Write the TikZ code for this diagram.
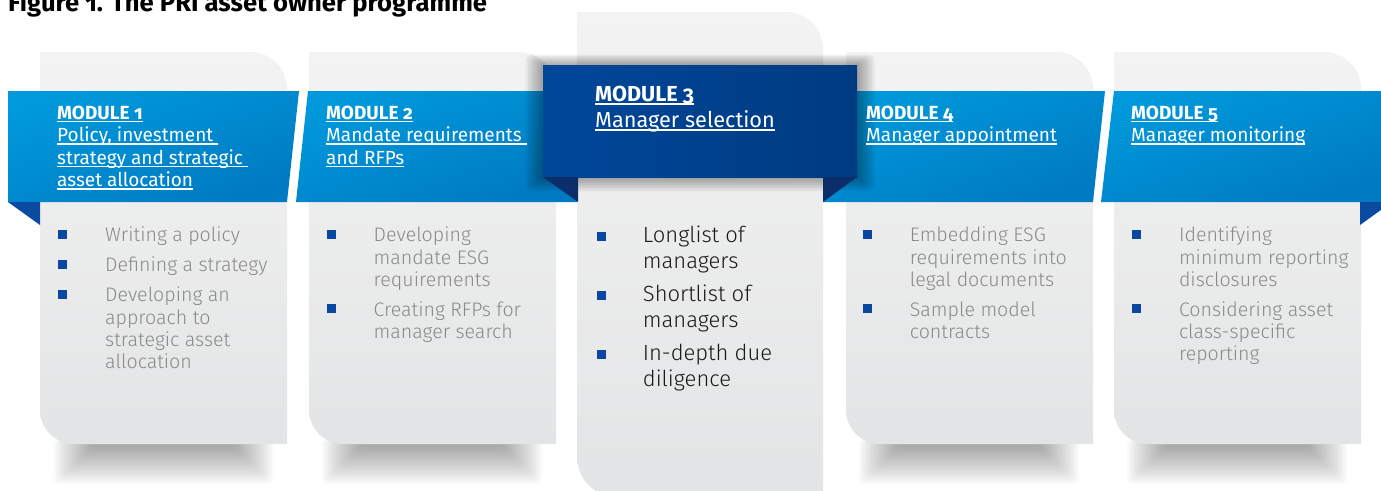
\documentclass[tikz,border=0pt]{standalone}
\usepackage{fontspec}
\setmainfont{Fira Sans}[Numbers=OldStyle]
\newfontfamily\lightfont{Fira Sans Light}[Numbers=OldStyle]
\usetikzlibrary{positioning}

% underline at a fixed depth below the baseline
\newcommand{\priul}[1]{\setbox0\hbox{#1}\rlap{\rule[-3pt]{\wd0}{1.3pt}}\box0}
% stacked lines, hung from the baseline of the first one
\newcommand{\prilines}[1]{\begin{tabular}[t]{@{}l@{}}#1\end{tabular}}

\definecolor{priblue}{HTML}{0099DB}
\definecolor{priblueend}{HTML}{007AC2}
\definecolor{prinavy}{HTML}{00479A}
\definecolor{prinavyend}{HTML}{003B82}
\definecolor{prinavydark}{HTML}{0B2E6B}
\definecolor{prifold}{HTML}{0A4AA0}
\definecolor{cardtop}{HTML}{F3F3F3}
\definecolor{cardbottom}{HTML}{E3E4E5}
\definecolor{bodygray}{HTML}{8A8A8A}
\definecolor{bulletblue}{HTML}{0A47A0}

\tikzset{
  card/.style={top color=cardtop, bottom color=cardbottom},
  banner/.style={top color=priblue, bottom color=priblueend, shading angle=20},
  modhead/.style={anchor=base west, inner sep=0pt, text=white,
    font=\fontsize{19}{22.5}\selectfont},
  bigmodhead/.style={modhead, font=\fontsize{21.7}{26}\selectfont},
  itemtext/.style={anchor=base west, inner sep=0pt, text=bodygray,
    font=\lightfont\fontsize{19.6}{22.3}\selectfont},
  bigitemtext/.style={itemtext, text=black!90, font=\lightfont\fontsize{22}{25.5}\selectfont},
  bullet/.style={fill=bulletblue, minimum size=9pt, inner sep=0pt},
}

\begin{document}
\begin{tikzpicture}[x=1pt, y=1pt]
\useasboundingbox (0,0) rectangle (1381,-490);

% title, cut off by the top of the page
\node[anchor=base west, inner sep=0pt, font=\bfseries\fontsize{25.6}{30}\selectfont]
  (title) at (8,-11) {Figure 1. The PRI asset owner programme};

% soft shadows under the outer cards
\foreach \cx in {163.5, 432, 969, 1237}
  \foreach \k in {1,...,20}
    \fill[black, opacity=0.018, rounded corners=4pt]
      (\cx-70-2*\k,-440) rectangle (\cx+70+2*\k,-446-1.9*\k);

% the four outer cards
\foreach \l in {40, 309, 846, 1114}
  \shade[card] (\l,-52) -- (\l+210,-52) arc[start angle=90, end angle=0, radius=37]
    -- (\l+247,-444) -- (\l+34,-444) arc[start angle=270, end angle=180, radius=34] -- cycle;

% the light blue banners
\shade[banner] (8,-91) -- (299,-91) -- (287,-202) -- (8,-202) -- cycle;
\shade[banner] (308,-91) -- (578,-91) -- (578,-202) -- (296,-202) -- cycle;
\shade[banner] (822,-91) -- (1105,-91) -- (1093,-202) -- (822,-202) -- cycle;
\shade[banner] (1114,-91) -- (1381,-91) -- (1381,-202) -- (1101,-202) -- cycle;

% folds at both ends
\fill[prifold] (8,-202) -- (40,-202) -- (40,-225) -- cycle;
\fill[prifold] (1360,-202) -- (1392,-202) -- (1360,-225) -- cycle;

% the middle card
\shade[card] (577,-12) -- (786,-12) arc[start angle=90, end angle=0, radius=37]
  -- (823,-497) -- (617,-497) arc[start angle=270, end angle=180, radius=40] -- cycle;

% shadow round the module 3 banner
\foreach \k in {1,...,7}
  \fill[black, opacity=0.05, rounded corners=\k pt]
    (543-2.5*\k,-65+1.5*\k) rectangle (857+2.5*\k,-177-2*\k);

% the module 3 banner and its folds
\shade[left color=prinavy, right color=prinavyend] (543,-65) rectangle (857,-177);
\fill[prinavydark] (543,-177) -- (578,-177) -- (578,-202) -- cycle;
\fill[prinavydark] (857,-177) -- (823,-177) -- (823,-202) -- cycle;

% module titles
\node[modhead] (mod1) at (57,-119) {\prilines{\priul{\textbf{MODULE 1}}\\
  \priul{Policy, investment\ }\\ \priul{strategy and strategic\ }\\ \priul{asset allocation}}};
\node[modhead] (mod2) at (326,-119) {\prilines{\priul{\textbf{MODULE 2}}\\
  \priul{Mandate requirements\ }\\ \priul{and RFPs}}};
\node[bigmodhead] (mod3) at (595,-101.7) {\prilines{\priul{\textbf{MODULE 3}}\\
  \priul{Manager selection}}};
\node[modhead] (mod4) at (866,-119) {\prilines{\priul{\textbf{MODULE 4}}\\
  \priul{Manager appointment}}};
\node[modhead] (mod5) at (1131,-119) {\prilines{\priul{\textbf{MODULE 5}}\\
  \priul{Manager monitoring}}};

% module 1 items
\node[itemtext] (pol) at (105,-241.7) {Writing a policy};
\node[itemtext] (strat) at (105,-271.7) {Defining a strategy};
\node[itemtext] (saa) at (105,-301.7) {\prilines{Developing an\\ approach to\\ strategic asset\\ allocation}};

% module 2 items
\node[itemtext] (esgreq) at (373.5,-241.7) {\prilines{Developing\\ mandate ESG\\ requirements}};
\node[itemtext] (rfp) at (373.5,-316) {\prilines{Creating RFPs for\\ manager search}};

% module 3 items
\node[bigitemtext] (long) at (642.7,-242.7) {\prilines{Longlist of\\ managers}};
\node[bigitemtext] (short) at (642.7,-301.7) {\prilines{Shortlist of\\ managers}};
\node[bigitemtext] (due) at (642.7,-360.7) {\prilines{In-depth due\\ diligence}};

% module 4 items
\node[itemtext] (legal) at (909.7,-241.7) {\prilines{Embedding ESG\\ requirements into\\ legal documents}};
\node[itemtext] (model) at (909.7,-316) {\prilines{Sample model\\ contracts}};

% module 5 items
\node[itemtext] (discl) at (1178.8,-241.7) {\prilines{Identifying\\ minimum reporting\\ disclosures}};
\node[itemtext] (class) at (1178.8,-316) {\prilines{Considering asset\\ class-specific\\ reporting}};

% square bullets
\foreach \it in {pol, strat, saa, esgreq, rfp, legal, model, discl, class}
  \node[bullet] (\it-b) at ([shift={(-42.5,7.5)}]\it.base west) {};
\foreach \it in {long, short, due}
  \node[bullet] (\it-b) at ([shift={(-41.5,6.5)}]\it.base west) {};

\end{tikzpicture}
\end{document}
